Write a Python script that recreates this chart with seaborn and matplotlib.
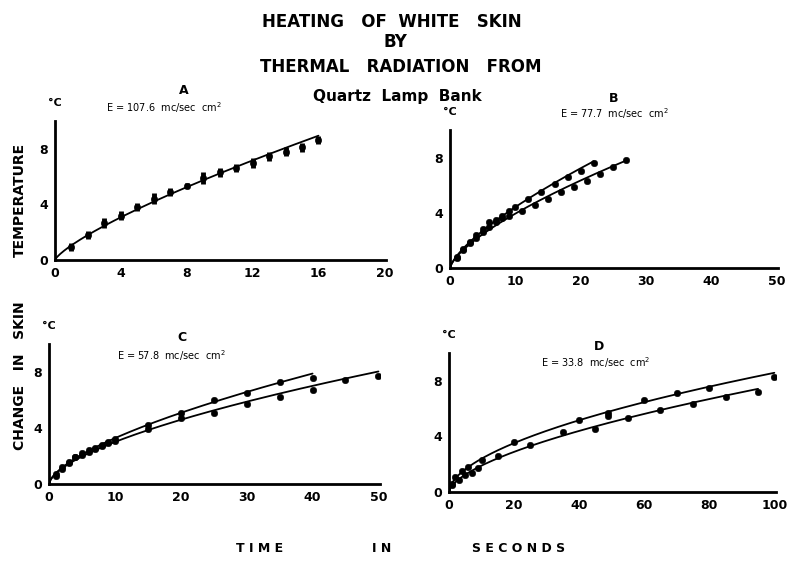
import numpy as np
import pandas as pd
import seaborn as sns
import matplotlib.pyplot as plt

# panel A: one series, points with small vertical spread
a_x = [1, 2, 3, 4, 5, 6, 7, 8, 9, 10, 11, 12, 13, 14, 15, 16]
a_y = [0.95, 1.8, 2.65, 3.2, 3.8, 4.4, 4.9, 5.35, 5.9, 6.3, 6.6, 7.0, 7.45, 7.8, 8.1, 8.65]
a_err = [0.3, 0.3, 0.35, 0.3, 0.3, 0.4, 0.3, 0.2, 0.4, 0.3, 0.3, 0.35, 0.35, 0.35, 0.35, 0.3]

# panel B: two series
b1_x = [1, 2, 3, 4, 5, 6, 7, 8, 9, 10, 12, 14, 16, 18, 20, 22]
b1_y = [0.8, 1.4, 1.9, 2.4, 2.8, 3.3, 3.5, 3.8, 4.1, 4.4, 5.0, 5.5, 6.1, 6.6, 7.0, 7.6]
b2_x = [1, 2, 3, 4, 5, 6, 7, 8, 9, 11, 13, 15, 17, 19, 21, 23, 25, 27]
b2_y = [0.7, 1.3, 1.8, 2.2, 2.6, 3.0, 3.3, 3.6, 3.8, 4.1, 4.6, 5.0, 5.5, 5.9, 6.3, 6.8, 7.3, 7.8]

# panel C: two series
c1_x = [1, 2, 3, 4, 5, 6, 7, 8, 9, 10, 15, 20, 25, 30, 35, 40]
c1_y = [0.7, 1.2, 1.6, 1.9, 2.2, 2.4, 2.6, 2.8, 3.0, 3.2, 4.2, 5.1, 6.0, 6.5, 7.3, 7.6]
c2_x = [1, 2, 3, 4, 5, 6, 7, 8, 9, 10, 15, 20, 25, 30, 35, 40, 45, 50]
c2_y = [0.6, 1.1, 1.5, 1.9, 2.1, 2.3, 2.5, 2.7, 2.9, 3.1, 3.9, 4.7, 5.1, 5.7, 6.2, 6.7, 7.4, 7.7]

# panel D: two series
d1_x = [1, 2, 4, 6, 10, 20, 40, 49, 60, 70, 80, 100]
d1_y = [0.6, 1.1, 1.5, 1.8, 2.3, 3.6, 5.2, 5.7, 6.6, 7.1, 7.5, 8.3]
d2_x = [1, 3, 5, 7, 9, 15, 25, 35, 45, 49, 55, 65, 75, 85, 95]
d2_y = [0.5, 0.9, 1.2, 1.4, 1.7, 2.6, 3.4, 4.3, 4.5, 5.5, 5.3, 5.9, 6.3, 6.8, 7.2]

panels = [
    dict(name="A", E="E = 107.6  mc/sec  cm$^2$", xmax=20, xmaj=4, xmin=2,
         series=[(a_x, a_y)], rect=[0.0695, 0.543, 0.4185, 0.2443],
         letter=(0.39, 1.22), elab=(0.33, 1.10)),
    dict(name="B", E="E = 77.7  mc/sec  cm$^2$", xmax=50, xmaj=10, xmin=None,
         series=[(b1_x, b1_y), (b2_x, b2_y)], rect=[0.569, 0.529, 0.4147, 0.2425],
         letter=(0.50, 1.23), elab=(0.50, 1.12)),
    dict(name="C", E="E = 57.8  mc/sec  cm$^2$", xmax=50, xmaj=10, xmin=None,
         series=[(c1_x, c1_y), (c2_x, c2_y)], rect=[0.062, 0.1494, 0.4185, 0.246],
         letter=(0.40, 1.05), elab=(0.37, 0.92)),
    dict(name="D", E="E = 33.8  mc/sec  cm$^2$", xmax=100, xmaj=20, xmin=10,
         series=[(d1_x, d1_y), (d2_x, d2_y)], rect=[0.5676, 0.1353, 0.4134, 0.2443],
         letter=(0.46, 1.05), elab=(0.45, 0.93)),
]

sns.set_style("white")
plt.rcParams['font.family'] = ['DejaVu Sans']
plt.rcParams['text.color'] = 'black'
plt.rcParams['xtick.color'] = 'black'
plt.rcParams['ytick.color'] = 'black'

fig = plt.figure(figsize=(7.91, 5.69), dpi=100)

for p in panels:
    ax = fig.add_axes(p["rect"])
    for sx, sy in p["series"]:
        df = pd.DataFrame({"t": sx, "dT": sy})
        # smooth curve: power-law fit through the points
        b, loga = np.polyfit(np.log(df["t"]), np.log(df["dT"]), 1)
        tt = np.linspace(0, max(sx), 200)
        ax.plot(tt, np.exp(loga) * tt ** b, color="black", lw=1.3, zorder=2)
        sns.scatterplot(data=df, x="t", y="dT", ax=ax, color="black", s=22,
                        edgecolor="black", zorder=3, legend=False)
    if p["name"] == "A":
        ax.errorbar(a_x, a_y, yerr=a_err, fmt="none", ecolor="black", elinewidth=3.5,
                    capsize=0, zorder=3)

    ax.set_xlim(0, p["xmax"] * 1.005)
    ax.set_ylim(0, 10)
    ax.set_xticks(np.arange(0, p["xmax"] + 1, p["xmaj"]))
    ax.set_yticks([0, 4, 8])
    ax.set_yticks([2, 6, 10], minor=True)
    if p["xmin"]:
        ax.set_xticks(np.arange(p["xmin"], p["xmax"], p["xmaj"]), minor=True)
    ax.tick_params(axis="both", which="major", direction="in", length=6, width=1.6,
                   labelsize=9, pad=5, color="black", labelcolor="black")
    ax.tick_params(axis="both", which="minor", direction="in", length=3.5, width=1.4,
                   color="black")
    for lab in ax.get_xticklabels() + ax.get_yticklabels():
        lab.set_fontweight("bold")
    for s in ["top", "right"]:
        ax.spines[s].set_visible(False)
    for s in ["left", "bottom"]:
        ax.spines[s].set_linewidth(2)
        ax.spines[s].set_color("black")
    ax.set_xlabel("")
    ax.set_ylabel("")
    ax.patch.set_alpha(0)

    ax.text(0.0, 1.13, "°C", transform=ax.transAxes, ha="center", va="center",
            fontsize=8, fontweight="bold")
    ax.text(*p["letter"], p["name"], transform=ax.transAxes, ha="center", va="center",
            fontsize=9, fontweight="bold")
    ax.text(*p["elab"], p["E"], transform=ax.transAxes, ha="center", va="center",
            fontsize=7)

# titles
fig.text(392 / 791, 1 - 22 / 569, "HEATING   OF  WHITE   SKIN", ha="center", va="center",
         fontsize=12, fontweight="bold")
fig.text(395 / 791, 1 - 42 / 569, "BY", ha="center", va="center", fontsize=12,
         fontweight="bold")
fig.text(401 / 791, 1 - 67 / 569, "THERMAL   RADIATION   FROM", ha="center", va="center",
         fontsize=12, fontweight="bold")
fig.text(397 / 791, 1 - 96 / 569, "Quartz  Lamp  Bank", ha="center", va="center",
         fontsize=11, fontweight="bold")

# shared axis labels
fig.text(20 / 791, 1 - 200 / 569, "TEMPERATURE", rotation=90, ha="center", va="center",
         fontsize=10, fontweight="bold")
fig.text(20 / 791, 1 - 376 / 569, "CHANGE   IN   SKIN", rotation=90, ha="center",
         va="center", fontsize=10, fontweight="bold")
fig.text(260 / 791, 1 - 548 / 569, "T I M E", ha="center", va="center", fontsize=9,
         fontweight="bold")
fig.text(382 / 791, 1 - 548 / 569, "I N", ha="center", va="center", fontsize=9,
         fontweight="bold")
fig.text(519 / 791, 1 - 548 / 569, "S E C O N D S", ha="center", va="center", fontsize=9,
         fontweight="bold")

fig.savefig("out.png", dpi=100)
